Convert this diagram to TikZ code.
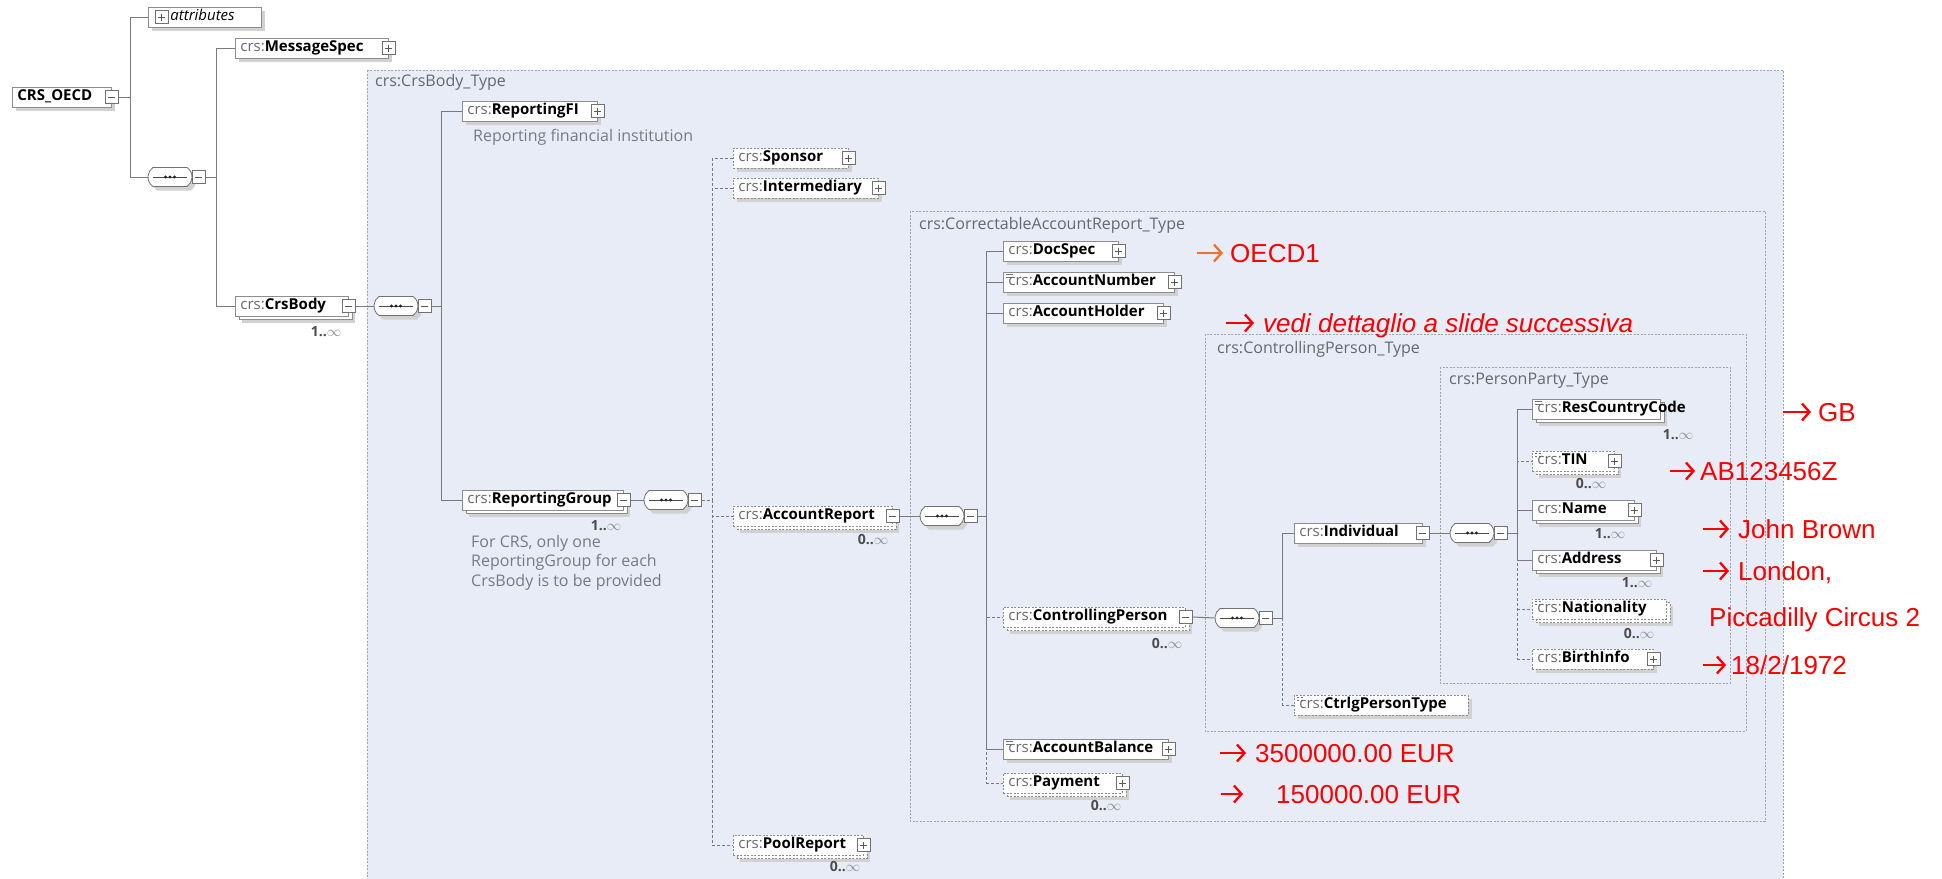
\documentclass[tikz,border=0pt]{standalone}
\usepackage{fontspec}
\setmainfont{Open Sans}
\newfontfamily\annfont{Liberation Sans}
\usetikzlibrary{shapes.misc,shadows,arrows.meta}

\definecolor{regionfill}{RGB}{232,236,247}
\definecolor{regionline}{RGB}{160,164,176}
\definecolor{connline}{RGB}{120,122,128}
\definecolor{boxline}{RGB}{140,140,146}
\definecolor{pfxgray}{RGB}{105,105,112}
\definecolor{notegray}{RGB}{118,122,132}
\definecolor{labelgray}{RGB}{100,104,112}
\definecolor{annred}{RGB}{250,0,0}
\definecolor{annorange}{RGB}{242,112,40}

\newcommand\crsname[1]{{\color{pfxgray}\mdseries crs:}{\bfseries #1}}
\newcommand\occurs[1]{#1..{\color{black!45}$\infty$}}

\tikzset{
  shadowone/.style={general shadow={shadow xshift=4pt, shadow yshift=-4pt, fill=black!18}},
  shadowtwo/.style={general shadow={shadow xshift=7pt, shadow yshift=-7pt, fill=black!18},
                    general shadow={shadow xshift=3.5pt, shadow yshift=-3.5pt, fill=white, draw=boxline, line width=0.8pt}},
  elembase/.style={draw=boxline, fill=white, line width=0.8pt, anchor=west,
    minimum height=20pt, inner xsep=5pt, inner ysep=0pt, align=left,
    text height=11pt, text depth=3.5pt, font=\fontsize{15}{18}\selectfont},
  elem/.style={elembase, shadowone},
  elemmany/.style={elembase, shadowtwo},
  optional/.style={dash pattern=on 2pt off 1.5pt},
  simple/.style={path picture={\draw[black!55, line width=0.7pt]
      ([xshift=3pt,yshift=-2.5pt]path picture bounding box.north west) -- ++(7pt,0pt)
      ([xshift=3pt,yshift=-5pt]path picture bounding box.north west) -- ++(7pt,0pt);}},
  pm/.style={draw=boxline!80!black, fill=white, line width=0.8pt, minimum size=13pt, inner sep=0pt},
  plus/.style={pm, path picture={\draw[black!65, line width=0.9pt]
      ([xshift=3pt]path picture bounding box.west) -- ([xshift=-3pt]path picture bounding box.east)
      ([yshift=-3pt]path picture bounding box.north) -- ([yshift=3pt]path picture bounding box.south);}},
  minus/.style={pm, path picture={\draw[black!65, line width=0.9pt]
      ([xshift=3pt]path picture bounding box.west) -- ([xshift=-3pt]path picture bounding box.east);}},
  seqsym/.style={rounded rectangle, rounded rectangle arc length=110, draw=boxline!80!black, fill=white,
    line width=0.8pt, minimum width=44pt, minimum height=19pt, inner sep=0pt, shadowone,
    path picture={\draw[black!70, line width=0.8pt]
      ([xshift=5pt]path picture bounding box.west) -- ([xshift=-5pt]path picture bounding box.east);
      \foreach \dx in {-4.5,0,4.5}
        \fill[black!85] ([xshift=\dx pt]path picture bounding box.center) circle (1.6pt);}},
  conn/.style={draw=connline, line width=1pt},
  optconn/.style={conn, dash pattern=on 3pt off 2pt},
  region/.style={draw=regionline, fill=regionfill, line width=0.8pt, dash pattern=on 2pt off 1.5pt},
  rlabel/.style={anchor=west, inner sep=0pt, text=labelgray, font=\fontsize{16}{19}\selectfont},
  note/.style={anchor=west, inner sep=0pt, text=notegray, font=\fontsize{16}{19.5}\selectfont, align=left},
  mult/.style={inner sep=0pt, text=black!70, font=\fontsize{14}{16}\selectfont\bfseries},
  ann/.style={anchor=west, inner sep=0pt, text=annred, font=\annfont\fontsize{26}{30}\selectfont,
    text height=18.6pt, text depth=0pt},
  annarrow/.style={draw=annred, line width=2.3pt, -{Straight Barb[length=7.5pt,width=17pt]}}
}

\begin{document}
\begin{tikzpicture}[x=1pt,y=-1pt]
\useasboundingbox (0,0) rectangle (1942,878);
\fill[white] (0,0) rectangle (1942,878);

% type regions (nested)
\path[region] (367,70) rectangle (1783,900);
\node[rlabel] (crsbodytype) at (375,82) {crs:CrsBody\_Type};
\path[region] (910,211) rectangle (1765,821);
\node[rlabel] (cartype) at (919,225) {crs:CorrectableAccountReport\_Type};
\path[region] (1205,334) rectangle (1746,731);
\node[rlabel] (cptype) at (1217,349) {crs:ControllingPerson\_Type};
\path[region] (1440,367) rectangle (1730,683);
\node[rlabel] (pptype) at (1449,381) {crs:PersonParty\_Type};

% root level
\node[elem, text width=89pt] (oecd) at (12,97) {\bfseries CRS\_OECD};
\node[minus] (oecdx) at (oecd.east) {};
\node[elem, text width=103pt] (attr) at (148,17) {\hspace*{17pt}\itshape attributes};
\node[plus] (attrx) at ([xshift=13.5pt]attr.west) {};
\node[seqsym] (seq1) at (170,177) {};
\node[minus] (seq1x) at ([xshift=6.5pt]seq1.east) {};

\node[elem, text width=143pt] (ms) at (235,48) {\crsname{MessageSpec}};
\node[plus] (msx) at (ms.east) {};
\node[elemmany, text width=103pt] (crsbody) at (235,306) {\crsname{CrsBody}};
\node[minus] (crsbodyx) at (crsbody.east) {};
\node[mult] (crsbodym) at (326,332) {\occurs{1}};

% CrsBody content
\node[seqsym] (seq2) at (396,306) {};
\node[minus] (seq2x) at ([xshift=6.5pt]seq2.east) {};
\node[elem, text width=125pt] (repfi) at (462,111) {\crsname{ReportingFI}};
\node[plus] (repfix) at (repfi.east) {};
\node[note] (repfinote) at (473,137) {Reporting financial institution};
\node[elemmany, text width=151pt] (repgrp) at (462,500) {\crsname{ReportingGroup}};
\node[minus] (repgrpx) at (repgrp.east) {};
\node[mult] (repgrpm) at (606,526) {\occurs{1}};
\node[note, anchor=north west] (repgrpnote) at (471,535)
  {For CRS, only one\\ReportingGroup for each\\CrsBody is to be provided};

% ReportingGroup content
\node[seqsym] (seq3) at (666,500) {};
\node[minus] (seq3x) at ([xshift=6.5pt]seq3.east) {};
\node[elem, optional, text width=105pt] (sponsor) at (733,158) {\crsname{Sponsor}};
\node[plus] (sponsorx) at (sponsor.east) {};
\node[elem, optional, text width=135pt] (interm) at (733,188) {\crsname{Intermediary}};
\node[plus] (intermx) at (interm.east) {};
\node[elemmany, optional, text width=149pt] (accrep) at (733,516) {\crsname{AccountReport}};
\node[minus] (accrepx) at (accrep.east) {};
\node[mult] (accrepm) at (873,540) {\occurs{0}};
\node[elemmany, optional, text width=120pt] (pool) at (733,845) {\crsname{PoolReport}};
\node[plus] (poolx) at (pool.east) {};
\node[mult] (poolm) at (845,867) {\occurs{0}};

% AccountReport content
\node[seqsym] (seq4) at (942,516) {};
\node[minus] (seq4x) at ([xshift=6.5pt]seq4.east) {};
\node[elem, text width=105pt] (docspec) at (1003,251) {\crsname{DocSpec}};
\node[plus] (docspecx) at (docspec.east) {};
\node[elem, simple, text width=161pt] (accnum) at (1003,282) {\crsname{AccountNumber}};
\node[plus] (accnumx) at (accnum.east) {};
\node[elem, text width=150pt] (acchold) at (1003,313) {\crsname{AccountHolder}};
\node[plus] (accholdx) at (acchold.east) {};
\node[elemmany, optional, text width=172pt] (ctrlp) at (1003,617) {\crsname{ControllingPerson}};
\node[minus] (ctrlpx) at (ctrlp.east) {};
\node[mult] (ctrlpm) at (1167,644) {\occurs{0}};
\node[elem, simple, text width=155pt] (accbal) at (1003,749) {\crsname{AccountBalance}};
\node[plus] (accbalx) at (accbal.east) {};
\node[elemmany, optional, text width=109pt] (payment) at (1003,783) {\crsname{Payment}};
\node[plus] (paymentx) at (payment.east) {};
\node[mult] (paymentm) at (1106,806) {\occurs{0}};

% ControllingPerson content
\node[seqsym] (seq5) at (1237,618) {};
\node[minus] (seq5x) at ([xshift=6.5pt]seq5.east) {};
\node[elem, text width=118pt] (indiv) at (1294,533) {\crsname{Individual}};
\node[minus] (indivx) at (indiv.east) {};
\node[elem, optional, simple, text width=164pt] (ctrltype) at (1294,705) {\crsname{CtrlgPersonType}};

% Individual content
\node[seqsym] (seq6) at (1472,533) {};
\node[minus] (seq6x) at ([xshift=6.5pt]seq6.east) {};
\node[elemmany, simple, text width=118pt] (rescc) at (1532,409) {\crsname{ResCountryCode}};
\node[mult] (rescm) at (1678,435) {\occurs{1}};
\node[elemmany, optional, simple, text width=72pt] (tin) at (1532,461) {\crsname{TIN}};
\node[plus] (tinx) at (tin.east) {};
\node[mult] (tinm) at (1591,484) {\occurs{0}};
\node[elemmany, text width=92pt] (name) at (1532,510) {\crsname{Name}};
\node[plus] (namex) at (name.east) {};
\node[mult] (namem) at (1610,534) {\occurs{1}};
\node[elemmany, text width=114pt] (address) at (1532,560) {\crsname{Address}};
\node[plus] (addressx) at (address.east) {};
\node[mult] (addressm) at (1637,583) {\occurs{1}};
\node[elemmany, optional, simple, text width=124pt] (nation) at (1532,609) {\crsname{Nationality}};
\node[mult] (nationm) at (1639,634) {\occurs{0}};
\node[elem, optional, text width=111pt] (birth) at (1532,659) {\crsname{BirthInfo}};
\node[plus] (birthx) at (birth.east) {};

% tree connectors
\draw[conn] (oecdx.east) -- ++(11.5,0) |- (attr.west);
\draw[conn] (oecdx.east) -- ++(11.5,0) |- (seq1.west);
\draw[conn] (seq1x.east) -- ++(10.5,0) |- (ms.west);
\draw[conn] (seq1x.east) -- ++(10.5,0) |- (crsbody.west);
\draw[conn] (crsbodyx.east) -- (seq2.west);
\draw[conn] (seq2x.east) -- ++(9.5,0) |- (repfi.west);
\draw[conn] (seq2x.east) -- ++(9.5,0) |- (repgrp.west);
\draw[conn] (repgrpx.east) -- (seq3.west);
\draw[optconn] (seq3x.east) -- ++(10.5,0) |- (sponsor.west);
\draw[optconn] (seq3x.east) -- ++(10.5,0) |- (interm.west);
\draw[optconn] (seq3x.east) -- ++(10.5,0) |- (accrep.west);
\draw[optconn] (seq3x.east) -- ++(10.5,0) |- (pool.west);
\draw[conn] (accrepx.east) -- (seq4.west);
\draw[conn] (seq4x.east) -- ++(9,0) |- (docspec.west);
\draw[conn] (seq4x.east) -- ++(9,0) |- (accnum.west);
\draw[conn] (seq4x.east) -- ++(9,0) |- (acchold.west);
\draw[optconn] (seq4x.east) -- ++(9,0) |- (ctrlp.west);
\draw[conn] (seq4x.east) -- ++(9,0) |- (accbal.west);
\draw[optconn] (seq4x.east) -- ++(9,0) |- (payment.west);
\draw[conn] (ctrlpx.east) -- (seq5.west);
\draw[conn] (seq5x.east) -- ++(10,0) |- (indiv.west);
\draw[optconn] (seq5x.east) -- ++(10,0) |- (ctrltype.west);
\draw[conn] (indivx.east) -- (seq6.west);
\draw[conn] (seq6x.east) -- ++(10,0) |- (rescc.west);
\draw[optconn] (seq6x.east) -- ++(10,0) |- (tin.west);
\draw[conn] (seq6x.east) -- ++(10,0) |- (name.west);
\draw[conn] (seq6x.east) -- ++(10,0) |- (address.west);
\draw[optconn] (seq6x.east) -- ++(10,0) |- (nation.west);
\draw[optconn] (seq6x.east) -- ++(10,0) |- (birth.west);

% sample values
\coordinate (a1s) at (1197,253); \coordinate (a1e) at (1223,253);
\draw[annarrow, draw=annorange] (a1s) -- (a1e);
\node[ann] (v1) at (1230,253) {OECD1};
\coordinate (a2s) at (1226,323); \coordinate (a2e) at (1254,323);
\draw[annarrow] (a2s) -- (a2e);
\node[ann, font=\annfont\itshape\fontsize{26}{30}\selectfont] (v2) at (1263,323) {vedi dettaglio a slide successiva};
\coordinate (a3s) at (1783,412); \coordinate (a3e) at (1811,412);
\draw[annarrow] (a3s) -- (a3e);
\node[ann] (v3) at (1818,412) {GB};
\coordinate (a4s) at (1670,471); \coordinate (a4e) at (1695,471);
\draw[annarrow] (a4s) -- (a4e);
\node[ann] (v4) at (1700,471) {AB123456Z};
\coordinate (a5s) at (1703,529); \coordinate (a5e) at (1729,529);
\draw[annarrow] (a5s) -- (a5e);
\node[ann] (v5) at (1738,529) {John Brown};
\coordinate (a6s) at (1703,571); \coordinate (a6e) at (1729,571);
\draw[annarrow] (a6s) -- (a6e);
\node[ann] (v6) at (1738,571) {London,};
\node[ann] (v6b) at (1709,617) {Piccadilly Circus 2};
\coordinate (a7s) at (1703,665); \coordinate (a7e) at (1726,665);
\draw[annarrow] (a7s) -- (a7e);
\node[ann] (v7) at (1731,665) {18/2/1972};
\coordinate (a8s) at (1220,753); \coordinate (a8e) at (1246,753);
\draw[annarrow] (a8s) -- (a8e);
\node[ann] (v8) at (1255,753) {3500000.00 EUR};
\coordinate (a9s) at (1221,794); \coordinate (a9e) at (1243,794);
\draw[annarrow] (a9s) -- (a9e);
\node[ann] (v9) at (1276,794) {150000.00 EUR};
\end{tikzpicture}
\end{document}
